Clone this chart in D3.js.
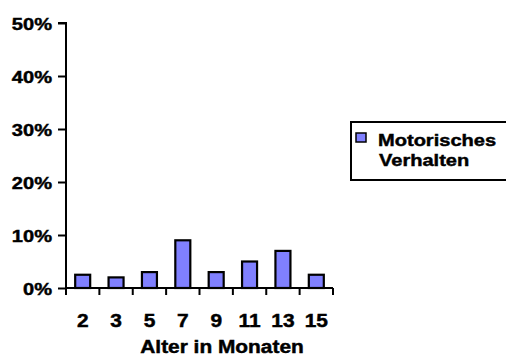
<!DOCTYPE html>
<html><head><meta charset="utf-8">
<script src="https://cdn.jsdelivr.net/npm/d3@7"></script>
<style>body{margin:0;background:#fff}svg{display:block}text{font-family:"Liberation Sans",Arial,sans-serif;font-weight:bold;fill:#000;stroke:#000;stroke-width:0.45px}</style>
</head><body>
<script>
const categories = ["2","3","5","7","9","11","13","15"];
const values = [0.025,0.02,0.03,0.09,0.03,0.05,0.07,0.025];
const yTicks = [0,0.1,0.2,0.3,0.4,0.5];
const seriesName = ["Motorisches","Verhalten"];
const xTitle = "Alter in Monaten";

const W=506,H=356, SX=1.16;
const svg=d3.select("body").append("svg").attr("width",W).attr("height",H);
const xb=d3.scaleBand().domain(categories).range([66,333]);
const y=d3.scaleLinear().domain([0,0.5]).range([288,23]);
const fmt=d3.format(".0%");

function label(g,x0,y0,txt,size,anchor){
  return g.append("text").attr("transform",`translate(${x0},${y0}) scale(${SX},1)`)
   .attr("text-anchor",anchor||"start").style("font-size",size+"px").text(txt);
}

svg.selectAll("rect.bar").data(values).enter().append("rect")
 .attr("x",(d,i)=>xb(categories[i])+xb.bandwidth()/2-7.5)
 .attr("width",15)
 .attr("y",d=>y(d)).attr("height",d=>y(0)-y(d))
 .attr("fill","#8080ff").attr("stroke","#000").attr("stroke-width",2.2);

// y axis
const ya=svg.append("g").attr("transform","translate(66,0)")
 .call(d3.axisLeft(y).tickValues(yTicks).tickFormat(()=>"").tickSize(8));
ya.select(".domain").attr("stroke","#000").attr("stroke-width",2).attr("d","M-8,23H0V288");
ya.selectAll(".tick line").attr("stroke","#000").attr("stroke-width",2);
yTicks.forEach(t=>label(svg,52,y(t)+6.5,fmt(t),17.3,"end"));

// x axis
const xa=svg.append("g").attr("transform","translate(0,288)");
xa.append("line").attr("x1",66).attr("x2",333).attr("y1",0).attr("y2",0).attr("stroke","#000").attr("stroke-width",2);
const edges=categories.map(c=>xb(c)).concat([xb(categories[categories.length-1])+xb.bandwidth()]);
xa.selectAll("line.t").data(edges).enter().append("line")
 .attr("x1",d=>d).attr("x2",d=>d).attr("y1",0).attr("y2",7).attr("stroke","#000").attr("stroke-width",2);
categories.forEach(c=>label(svg,xb(c)+xb.bandwidth()/2,326.5,c,18,"middle"));
label(svg,222,353,xTitle,18,"middle");

// legend
const lg=svg.append("g");
lg.append("rect").attr("x",351).attr("y",122).attr("width",170).attr("height",58).attr("fill","#fff").attr("stroke","#000").attr("stroke-width",2);
lg.append("rect").attr("x",356).attr("y",133).attr("width",10).attr("height",9).attr("fill","#8080ff").attr("stroke","#000").attr("stroke-width",1.5);
label(lg,378,145.7,seriesName[0],17.3,"start");
label(lg,379,165.7,seriesName[1],17.3,"start");
</script>
</body></html>
